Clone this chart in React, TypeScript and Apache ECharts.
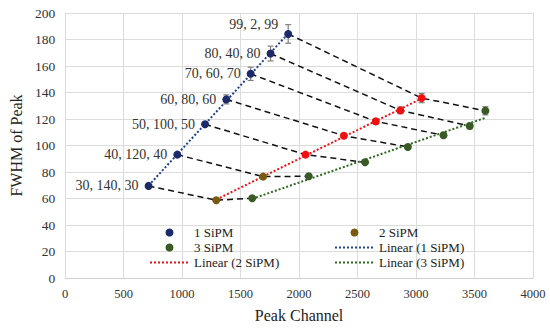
import React, { useEffect, useRef } from "react";
import * as echarts from "echarts";

// Peak channel (x) and FWHM (y) for each configuration
const oneX = [713, 959, 1196, 1378, 1586, 1756, 1907];
const oneY = [69.5, 93.1, 116, 134.8, 154.1, 169.4, 184.2];
const oneErr = [1, 1.5, 1.5, 3.4, 5, 5.6, 7];

const twoX = [1292, 1692, 2055, 2383, 2656, 2866, 3048];
const twoY = [58.7, 76.5, 93.1, 107.4, 118.2, 126.5, 135.8];
const twoErr = [1, 1, 1, 1.5, 2, 2.5, 3.5];

const threeX = [1599, 2083, 2564, 2930, 3235, 3459, 3593];
const threeY = [60.2, 76.8, 87.3, 98.9, 107.7, 114.7, 126.2];
const threeErr = [1, 1, 1, 1.5, 1.5, 2, 3.1];

const pointLabels = [
  "30, 140, 30",
  "40, 120, 40",
  "50, 100, 50",
  "60, 80, 60",
  "70, 60, 70",
  "80, 40, 80",
  "99, 2, 99",
];

const NAVY = "#1b2a6b";
const NAVY_LINE = "#23408e";
const BROWN = "#7a5a10";
const RED = "#f01010";
const GREEN = "#2f6a22";
const GREEN_LEG = "#3a5a25";
const FONT = "'Liberation Serif', 'Times New Roman', serif";

function linFit(xs: number[], ys: number[]) {
  const n = xs.length;
  const mx = xs.reduce((a, b) => a + b, 0) / n;
  const my = ys.reduce((a, b) => a + b, 0) / n;
  let sxy = 0;
  let sxx = 0;
  for (let i = 0; i < n; i++) {
    sxy += (xs[i] - mx) * (ys[i] - my);
    sxx += (xs[i] - mx) * (xs[i] - mx);
  }
  const b = sxy / sxx;
  const a = my - b * mx;
  const x0 = Math.min(...xs);
  const x1 = Math.max(...xs);
  return [
    [x0, a + b * x0],
    [x1, a + b * x1],
  ];
}

function pairs(xs: number[], ys: number[]) {
  return xs.map((x, i) => [x, ys[i]]);
}

function errData(xs: number[], ys: number[], es: number[]) {
  return xs.map((x, i) => [x, ys[i], es[i]]);
}

export default function App() {
  const ref = useRef<HTMLDivElement>(null);

  useEffect(() => {
    document.body.style.margin = "0";
    if (!ref.current) return;
    const chart = echarts.init(ref.current, null, { renderer: "svg" });

    const dashed = oneX.map((_, i) => ({
      type: "line",
      data: [
        [oneX[i], oneY[i]],
        [twoX[i], twoY[i]],
        [threeX[i], threeY[i]],
      ],
      symbol: "none",
      silent: true,
      z: 1,
      lineStyle: { color: "#111", width: 1.5, type: [6, 4] },
    }));

    const errorSeries = (data: number[][]) => ({
      type: "custom",
      data,
      encode: { x: 0, y: 1 },
      z: 3,
      silent: true,
      renderItem: (params: any, api: any) => {
        const x = api.value(0);
        const y = api.value(1);
        const e = api.value(2);
        const top = api.coord([x, y + e]);
        const bot = api.coord([x, y - e]);
        const style = { stroke: "#7f7f7f", lineWidth: 1.2 };
        return {
          type: "group",
          children: [
            { type: "line", shape: { x1: top[0], y1: top[1], x2: bot[0], y2: bot[1] }, style },
            { type: "line", shape: { x1: top[0] - 3, y1: top[1], x2: top[0] + 3, y2: top[1] }, style },
            { type: "line", shape: { x1: bot[0] - 3, y1: bot[1], x2: bot[0] + 3, y2: bot[1] }, style },
          ],
        };
      },
    });

    const oneData = pairs(oneX, oneY).map((p, i) =>
      i === oneX.length - 1 ? { value: p, label: { offset: [0, -9] } } : { value: p }
    );
    const twoData = pairs(twoX, twoY).map((p, i) =>
      i < 2 ? { value: p } : { value: p, itemStyle: { color: RED } }
    );

    const legendText = { fontFamily: FONT, fontSize: 13, color: "#222", lineHeight: 15 };
    const lineItem = (name: string) => ({ name, itemStyle: { opacity: 0 } });

    chart.setOption({
      animation: false,
      textStyle: { fontFamily: FONT },
      grid: { left: 56, right: 17, top: 13, bottom: 52 },
      xAxis: {
        type: "value",
        min: 0,
        max: 4000,
        interval: 500,
        name: "Peak Channel",
        nameLocation: "middle",
        nameGap: 29,
        nameTextStyle: { fontFamily: FONT, fontSize: 16, color: "#222" },
        axisLine: { show: true, lineStyle: { color: "#d0d0d0" } },
        axisTick: { show: false },
        splitLine: { show: true, lineStyle: { color: "#dcdcdc" } },
        axisLabel: {
          fontFamily: FONT,
          fontSize: 12.5,
          color: "#333",
          margin: 9,
          formatter: (v: number) => String(v),
        },
      },
      yAxis: {
        type: "value",
        min: 0,
        max: 200,
        interval: 20,
        name: "FWHM of Peak",
        nameLocation: "middle",
        nameGap: 39,
        nameTextStyle: { fontFamily: FONT, fontSize: 16, color: "#222" },
        axisLine: { show: false },
        axisTick: { show: false },
        splitLine: { show: true, lineStyle: { color: "#dcdcdc" } },
        axisLabel: {
          fontFamily: FONT,
          fontSize: 13.5,
          color: "#333",
          margin: 10,
          formatter: (v: number) => String(v),
        },
      },
      legend: [
        {
          orient: "vertical",
          left: 144,
          top: 220,
          itemWidth: 39,
          itemHeight: 8,
          itemGap: 0,
          textStyle: legendText,
          data: ["1 SiPM", "3 SiPM", lineItem("Linear (2 SiPM)")],
        },
        {
          orient: "vertical",
          left: 329,
          top: 220,
          itemWidth: 39,
          itemHeight: 8,
          itemGap: 0,
          textStyle: legendText,
          data: ["2 SiPM", lineItem("Linear (1 SiPM)"), lineItem("Linear (3 SiPM)")],
        },
      ],
      series: [
        ...dashed,
        {
          name: "Linear (1 SiPM)",
          type: "line",
          data: linFit(oneX, oneY),
          symbol: "none",
          z: 2,
          lineStyle: { color: NAVY_LINE, width: 2, type: [2, 2] },
          itemStyle: { color: NAVY_LINE },
        },
        {
          name: "Linear (2 SiPM)",
          type: "line",
          data: linFit(twoX, twoY),
          symbol: "none",
          z: 2,
          lineStyle: { color: RED, width: 2, type: [2, 2] },
          itemStyle: { color: RED },
        },
        {
          name: "Linear (3 SiPM)",
          type: "line",
          data: linFit(threeX, threeY),
          symbol: "none",
          z: 2,
          lineStyle: { color: GREEN, width: 2, type: [2, 2] },
          itemStyle: { color: GREEN },
        },
        errorSeries(errData(oneX, oneY, oneErr)),
        errorSeries(errData(twoX, twoY, twoErr)),
        errorSeries(errData(threeX, threeY, threeErr)),
        {
          name: "1 SiPM",
          type: "scatter",
          data: oneData,
          symbolSize: 8,
          z: 4,
          itemStyle: { color: NAVY, opacity: 1 },
          label: {
            show: true,
            position: "left",
            distance: 6,
            fontFamily: FONT,
            fontSize: 14,
            color: "#333",
            formatter: (p: any) => pointLabels[p.dataIndex],
          },
        },
        {
          name: "2 SiPM",
          type: "scatter",
          data: twoData,
          symbolSize: 8,
          z: 4,
          itemStyle: { color: BROWN, opacity: 1 },
        },
        {
          name: "3 SiPM",
          type: "scatter",
          data: pairs(threeX, threeY),
          symbolSize: 8,
          z: 4,
          itemStyle: { color: GREEN_LEG, opacity: 1 },
        },
      ],
    });

    return () => chart.dispose();
  }, []);

  return <div ref={ref} style={{ width: 550, height: 330 }} />;
}
